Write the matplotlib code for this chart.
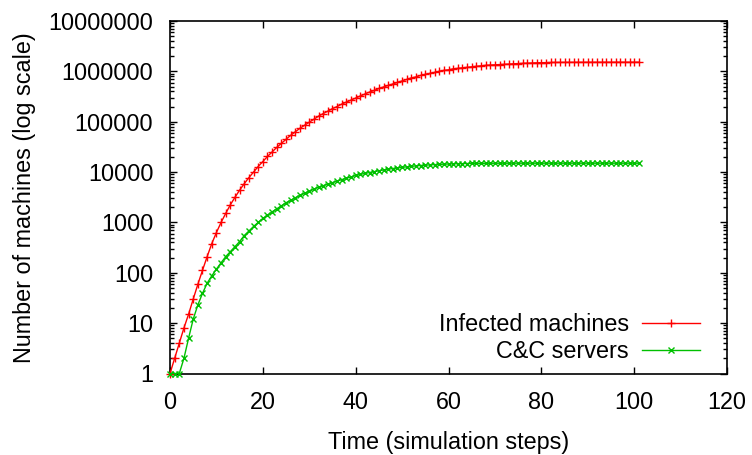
import matplotlib
matplotlib.use("Agg")
import matplotlib.pyplot as plt
from matplotlib.ticker import LogLocator, FixedLocator, NullFormatter

plt.rcParams['font.family'] = ['Liberation Sans', 'DejaVu Sans']

steps = list(range(0, 102))

infected = [
    1, 2, 4, 8, 15, 30, 59, 112, 209, 380,
    630, 1000, 1510, 2240, 3160, 4370, 5890, 7760, 10000, 12900,
    16200, 20400, 25100, 30900, 37200, 44700, 53700, 63100, 74100, 85100,
    97700, 112000, 129000, 145000, 162000, 182000, 200000, 224000, 245000, 269000,
    295000, 324000, 355000, 389000, 417000, 457000, 490000, 525000, 562000, 603000,
    646000, 692000, 741000, 776000, 832000, 871000, 912000, 955000, 1000000, 1047000,
    1072000, 1122000, 1148000, 1175000, 1202000, 1230000, 1259000, 1288000, 1318000, 1334000,
    1349000, 1365000, 1380000, 1396000, 1413000, 1429000, 1445000, 1455000, 1466000, 1479000,
    1486000, 1493000, 1500000, 1503000, 1507000, 1510000, 1512000, 1513000, 1514000, 1515000,
    1516000, 1517000, 1518000, 1518000, 1519000, 1519000, 1520000, 1520000, 1520000, 1520000,
    1520000, 1520000,
]

cc_servers = [
    1, 1, 1, 2, 5, 12, 23, 39, 62, 87,
    118, 158, 209, 263, 331, 417, 550, 676, 832, 1000,
    1202, 1380, 1622, 1862, 2138, 2455, 2754, 3090, 3467, 3800,
    4169, 4571, 5012, 5370, 5754, 6166, 6607, 7080, 7590, 7940,
    8610, 9000, 9400, 9800, 10200, 10600, 11000, 11400, 11750, 12050,
    12400, 12700, 13000, 13250, 13500, 13700, 13900, 14050, 14200, 14350,
    14450, 14550, 14650, 14720, 14780, 14830, 14870, 14900, 14930, 14950,
    14970, 14980, 14990, 15000, 15000, 15000, 15000, 15000, 15000, 15000,
    15000, 15000, 15000, 15000, 15000, 15000, 15000, 15000, 15000, 15000,
    15000, 15000, 15000, 15000, 15000, 15000, 15000, 15000, 15000, 15000,
    15000, 15000,
]

x_ticks = [0, 20, 40, 60, 80, 100, 120]
y_ticks = [1, 10, 100, 1000, 10000, 100000, 1000000, 10000000]
y_tick_labels = ['1', '10', '100', '1000', '10000', '100000', '1000000', '10000000']

FS = 16.8

fig = plt.figure(figsize=(7.52, 4.55), dpi=100)
ax = fig.add_axes([170/752, 1-373.5/455, 557/752, 352.5/455])

ax.plot(steps, infected, color='#ff0000', lw=1.0, marker='+', ms=6, mew=1.0,
        label='Infected machines', clip_on=False, zorder=3)
ax.plot(steps, cc_servers, color='#00c000', lw=1.0, marker='x', ms=5, mew=1.0,
        label='C&C servers', clip_on=False, zorder=3)

ax.set_yscale('log')
ax.set_xlim(0, 120)
ax.set_ylim(1, 1e7)
ax.xaxis.set_major_locator(FixedLocator(x_ticks))
ax.set_xticklabels([str(v) for v in x_ticks])
ax.yaxis.set_major_locator(FixedLocator(y_ticks))
ax.set_yticklabels(y_tick_labels)
ax.yaxis.set_minor_locator(LogLocator(base=10, subs=range(2, 10), numticks=20))
ax.yaxis.set_minor_formatter(NullFormatter())

ax.tick_params(which='both', direction='in', top=True, right=True, colors='black',
               labelsize=FS)
ax.tick_params(which='major', length=5, width=1.0)
ax.tick_params(which='minor', length=3, width=1.0)
ax.tick_params(axis='x', pad=12.5)
ax.tick_params(axis='y', pad=12)
for s in ax.spines.values():
    s.set_linewidth(1.2)
    s.set_color('black')

ax.set_xlabel('Time (simulation steps)', fontsize=FS, labelpad=12)
ax.set_ylabel('Number of machines (log scale)', fontsize=FS)
ax.yaxis.set_label_coords(-0.24, 0.5)

leg = ax.legend(loc='lower right', bbox_to_anchor=(0.952, 0.03), frameon=False,
                markerfirst=False, numpoints=1, fontsize=FS, handlelength=2.5,
                handletextpad=0.55, labelspacing=0.15, borderpad=0, borderaxespad=0)

fig.savefig('out.png', dpi=100)
